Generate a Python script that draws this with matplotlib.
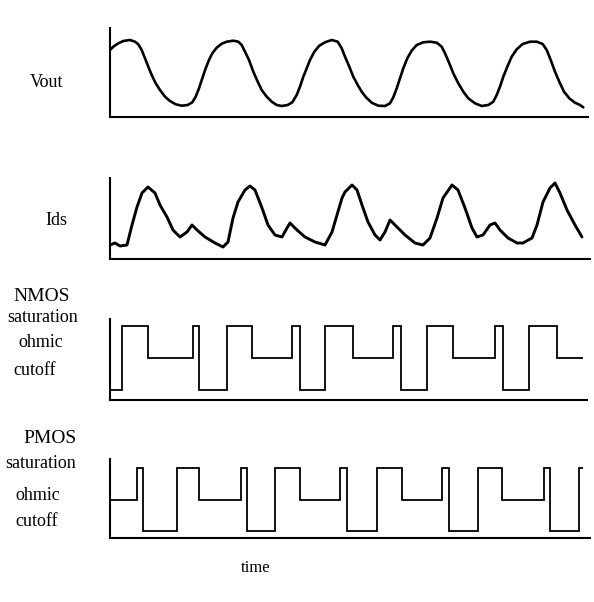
import matplotlib
matplotlib.use("Agg")
import matplotlib.pyplot as plt

# ---- data (time in arbitrary units) ----
vout_t = [0.0, 0.33, 0.83, 1.33, 2.0, 2.5, 2.83, 3.17, 3.5, 3.83, 4.17, 4.57,
          5.0, 5.5, 6.0, 6.57, 7.17, 7.77, 8.23, 8.57, 8.9, 9.23, 9.57, 9.9,
          10.23, 10.67, 11.17, 11.67, 12.33, 12.83, 13.17, 13.5, 13.9, 14.33,
          14.77, 15.17, 15.67, 16.17, 16.67, 17.17, 17.77, 18.23, 18.67, 19.0,
          19.33, 19.67, 20.0, 20.43, 20.93, 21.5, 22.17, 22.77, 23.17, 23.5,
          23.93, 24.33, 24.77, 25.17, 25.6, 26.17, 26.83, 27.5, 28.0, 28.33,
          28.67, 29.0, 29.33, 29.73, 30.17, 30.67, 31.33, 32.0, 32.67, 33.17,
          33.5, 33.93, 34.33, 34.83, 35.33, 35.83, 36.5, 37.17, 37.83, 38.33,
          38.67, 39.0, 39.33, 39.73, 40.17, 40.67, 41.27, 42.0, 42.67, 43.27,
          43.67, 44.07, 44.5, 44.93, 45.4, 45.93, 46.5, 47.0, 47.33]
vout_v = [6.7, 7.03, 7.37, 7.6, 7.7, 7.53, 7.27, 6.7, 5.87, 5.03, 4.2, 3.37,
          2.7, 2.03, 1.6, 1.27, 1.13, 1.2, 1.47, 2.03, 2.87, 3.87, 4.87, 5.7,
          6.37, 6.93, 7.33, 7.53, 7.63, 7.53, 7.2, 6.53, 5.7, 4.53,
          3.53, 2.7, 2.03, 1.53, 1.2, 1.1, 1.2, 1.47, 2.2, 3.03,
          4.03, 4.87, 5.7, 6.53, 7.13, 7.47, 7.7, 7.53, 6.87, 6.03,
          5.03, 4.03, 3.2, 2.53, 1.97, 1.43, 1.13, 1.1, 1.37, 1.97,
          2.87, 3.87, 4.87, 5.87, 6.63, 7.2, 7.47, 7.53, 7.43, 7.03,
          6.37, 5.37, 4.37, 3.37, 2.53, 1.87, 1.37, 1.1, 1.2, 1.53,
          2.2, 3.03, 4.03, 5.03, 6.03, 6.77, 7.3, 7.53, 7.53, 7.3,
          6.7, 5.7, 4.53, 3.53, 2.53, 1.87, 1.43, 1.2, 0.97]

ids_t = [0.0, 0.5, 1.0, 1.7, 2.2, 2.7, 3.2, 3.8, 4.5, 5.0, 5.7, 6.3, 7.0, 7.7,
         8.2, 8.7, 9.5, 10.5, 11.3, 11.8, 12.3, 12.8, 13.5, 14.0, 14.5, 15.2,
         15.8, 16.5, 17.2, 17.7, 18.0, 18.7, 19.5, 20.5, 21.5, 22.2, 22.7, 23.2,
         23.5, 24.2, 24.7, 25.2, 25.8, 26.5, 27.0, 27.5, 28.0, 28.7, 29.5, 30.5,
         31.3, 32.0, 32.7, 33.3, 34.2, 34.8, 35.5, 36.2, 36.7, 37.3, 38.0, 38.5,
         39.0, 39.8, 40.7, 41.3, 42.2, 42.7, 43.3, 44.0, 44.5, 45.0, 45.7, 46.5,
         47.2]
ids_v = [1.4, 1.6, 1.3, 1.4, 3.4, 5.2, 6.6, 7.2, 6.6, 5.4, 4.2, 2.9, 2.2, 2.7,
         3.4, 2.9, 2.2, 1.6, 1.2, 1.7, 4.1, 5.7, 6.9, 7.3, 6.9, 5.1,
         3.4, 2.4, 2.2, 3.1, 3.6, 2.9, 2.2, 1.7, 1.4, 2.7, 4.4, 6.1,
         6.7, 7.4, 6.9, 5.4, 3.7, 2.4, 1.9, 2.7, 3.9, 3.2, 2.4, 1.6,
         1.4, 2.1, 4.1, 6.1, 7.4, 6.9, 5.1, 3.1, 2.2, 2.4, 3.4, 3.6,
         2.9, 2.1, 1.6, 1.6, 2.1, 3.4, 5.7, 7.1, 7.6, 6.6, 4.9, 3.4,
         2.2]

# region levels: 0 = cutoff, 1 = ohmic, 2 = saturation
region_names = ["cutoff", "ohmic", "saturation"]

nmos_edges = [0, 1.2, 3.8, 8.3, 8.9, 11.7, 14.2, 18.2, 19.0, 21.5, 24.3, 28.3,
              29.1, 31.7, 34.3, 38.5, 39.3, 41.9, 44.7, 47.3]
nmos_state = [0, 2, 1, 2, 0, 2, 1, 2, 0, 2, 1, 2, 0, 2, 1, 2, 0, 2, 1]

pmos_edges = [0, 2.7, 3.3, 6.7, 8.9, 13.1, 13.7, 16.5, 19.0, 23.0, 23.7, 26.7,
              29.2, 33.2, 33.9, 36.8, 39.2, 43.4, 44.0, 46.9, 47.3]
pmos_state = [1, 2, 0, 2, 1, 2, 0, 2, 1, 2, 0, 2, 1, 2, 0, 2, 1, 2, 0, 2]

W, H = 594, 602
fig = plt.figure(figsize=(W / 100, H / 100), dpi=100)
fig.patch.set_facecolor("white")


def px_axes(left, top, right, bottom):
    return fig.add_axes([left / W, 1 - bottom / H, (right - left) / W, (bottom - top) / H])


def clean(ax):
    for s in ["top", "right"]:
        ax.spines[s].set_visible(False)
    for s in ["left", "bottom"]:
        ax.spines[s].set_linewidth(1.5)
        ax.spines[s].set_color("black")
    ax.set_xticks([])
    ax.set_yticks([])
    ax.patch.set_alpha(0)


ax1 = px_axes(110, 28, 588, 117)
ax1.plot(vout_t, vout_v, color="black", lw=1.9,
         solid_capstyle="round", solid_joinstyle="round")
ax1.set_xlim(0, 47.8)
ax1.set_ylim(0, 8.9)
clean(ax1)

ax2 = px_axes(110, 178, 590, 259)
ax2.plot(ids_t, ids_v, color="black", lw=2.1,
         solid_capstyle="round", solid_joinstyle="round")
ax2.set_xlim(0, 48.0)
ax2.set_ylim(0, 8.1)
clean(ax2)


def step_trace(ax, edges, state):
    ax.stairs(state, edges, baseline=None, color="black", lw=1.3)


ax3 = px_axes(110, 319, 587, 400)
step_trace(ax3, nmos_edges, nmos_state)
ax3.set_xlim(0, 47.7)
ax3.set_ylim(-0.31, 2.22)
clean(ax3)

ax4 = px_axes(110, 459, 590, 538)
step_trace(ax4, pmos_edges, pmos_state)
ax4.set_xlim(0, 48.0)
ax4.set_ylim(-0.22, 2.29)
clean(ax4)

font = dict(family="Liberation Serif", color="black", va="baseline", ha="left")


def label(x, y, s, size):
    fig.text(x / W, 1 - y / H, s, fontsize=size, **font)


label(30, 87, "Vout", 13)
label(45, 225, "Ids", 13)

label(13, 301, "NMOS", 14)
label(7, 322, region_names[2], 13)
label(18, 347, region_names[1], 13)
label(13, 375, region_names[0], 13)

label(23, 443, "PMOS", 14)
label(5, 468, region_names[2], 13)
label(15, 500, region_names[1], 13)
label(15, 526, region_names[0], 13)

label(241, 572, "time", 12)

fig.savefig("out.png", dpi=100, facecolor="white")
